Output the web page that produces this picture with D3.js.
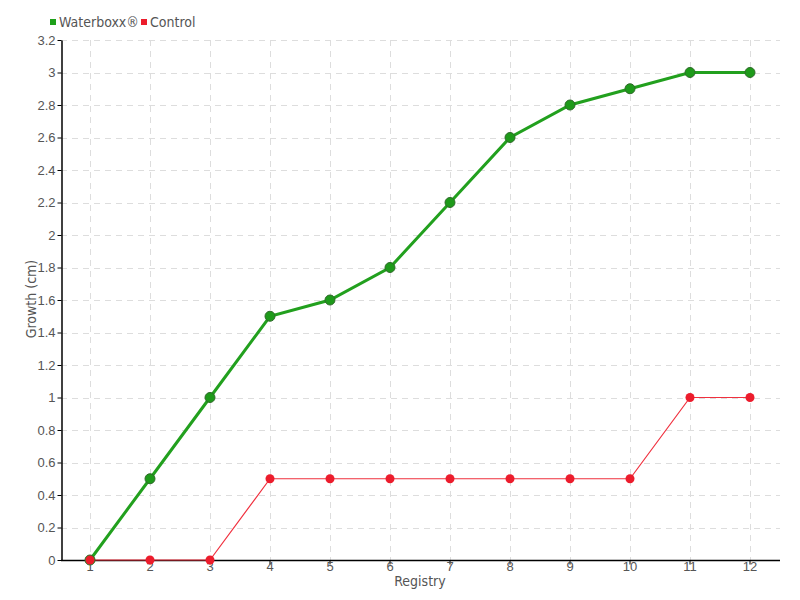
<!DOCTYPE html>
<html><head><meta charset="utf-8">
<script src="https://cdn.jsdelivr.net/npm/d3@7"></script>
<style>
body{margin:0;background:#fff;}
text{font-family:"DejaVu Sans Condensed","Liberation Sans Narrow",sans-serif;fill:#555;}
</style></head><body>
<svg id="c" width="800" height="600"></svg>
<script>
const categories = [1,2,3,4,5,6,7,8,9,10,11,12];
const waterboxx = [0,0.5,1.0,1.5,1.6,1.8,2.2,2.6,2.8,2.9,3.0,3.0];
const control = [0,0,0,0.5,0.5,0.5,0.5,0.5,0.5,0.5,1.0,1.0];
const yTicks = [0,0.2,0.4,0.6,0.8,1,1.2,1.4,1.6,1.8,2,2.2,2.4,2.6,2.8,3,3.2];

const svg = d3.select("#c");
const L=61, R=780, T=40, B=560;
const x = d3.scaleBand().domain(categories).range([L-1,R]);
const cx = d => x(d)+x.bandwidth()/2;
const y = d3.scaleLinear().domain([0,3.2]).range([B,T]);

// grid
const g = svg.append("g");
g.selectAll("line.h").data(yTicks.slice(1)).join("line")
 .attr("x1",L).attr("x2",R).attr("y1",d=>Math.round(y(d))+0.5).attr("y2",d=>Math.round(y(d))+0.5)
 .attr("stroke","#ddd").attr("stroke-dasharray","6,5");
g.selectAll("line.v").data(categories).join("line")
 .attr("x1",d=>Math.round(cx(d))+0.5).attr("x2",d=>Math.round(cx(d))+0.5).attr("y1",T).attr("y2",B)
 .attr("stroke","#ddd").attr("stroke-dasharray","6,5");

// axes
const yAxis = d3.axisLeft(y).tickValues(yTicks).tickSize(4).tickSizeOuter(0).tickFormat(d=>d3.format("~g")(d));
const ya = svg.append("g").attr("transform",`translate(${L+0.5},0)`).call(yAxis);
ya.select(".domain").attr("stroke","#000").attr("stroke-width",1.5);
ya.selectAll(".tick line").attr("stroke","#000");
ya.selectAll("text").attr("font-size",13).attr("fill","#555").style("font-family","inherit").attr("x",-6);

const xAxis = d3.axisBottom(x).tickSize(4).tickSizeOuter(0);
const xa = svg.append("g").attr("transform",`translate(0,${B+0.5})`).call(xAxis);
xa.select(".domain").attr("stroke","#000").attr("stroke-width",1.5).attr("d",`M${L},0H${R}`);
xa.selectAll(".tick line").attr("stroke","#000");
xa.selectAll("text").attr("font-size",13).attr("fill","#555").style("font-family","inherit").attr("y",1);

// labels
svg.append("text").attr("x",420).attr("y",586).attr("text-anchor","middle").attr("font-size",14).text("Registry");
svg.append("text").attr("transform","translate(36,299) rotate(-90)").attr("text-anchor","middle").attr("font-size",14).text("Growth (cm)");

// lines
const line = d3.line().x((d,i)=>cx(categories[i])).y(d=>y(d));
svg.append("path").datum(control).attr("d",line).attr("fill","none").attr("stroke","#f0303e").attr("stroke-width",1.2);
svg.append("path").datum(waterboxx).attr("d",line).attr("fill","none").attr("stroke","#22a01e").attr("stroke-width",3);

svg.selectAll("circle.w").data(waterboxx).join("circle")
 .attr("cx",(d,i)=>cx(categories[i])).attr("cy",d=>y(d)).attr("r",5)
 .attr("fill","#1e9a1a").attr("stroke","#2f6a2a").attr("stroke-width",1);
svg.selectAll("circle.c").data(control).join("circle")
 .attr("cx",(d,i)=>cx(categories[i])).attr("cy",d=>y(d)).attr("r",4.5)
 .attr("fill","#ec1c2c");

// legend
const leg = [{n:"Waterboxx®",c:"#1ea01a",x:50},{n:"Control",c:"#ec1c2c",x:141}];
leg.forEach(l=>{
  svg.append("rect").attr("x",l.x).attr("y",19).attr("width",6).attr("height",6).attr("fill",l.c);
  svg.append("text").attr("x",l.x+9).attr("y",27).attr("font-size",14).text(l.n);
});
</script>
</body></html>
